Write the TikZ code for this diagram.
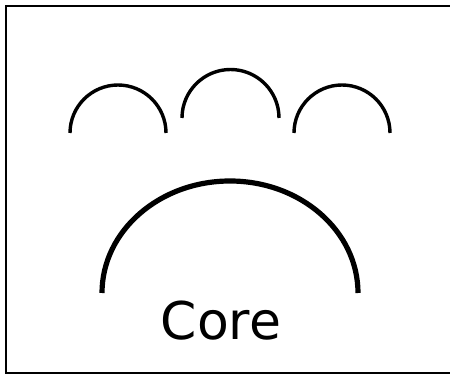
\documentclass[tikz,border=0pt]{standalone}
\usepackage{fontspec}
\newfontfamily\labelfont{DejaVu Sans}
\begin{document}
\begin{tikzpicture}[x=1pt,y=-1pt,
  smallarc/.style={line width=3.4pt},
  bigarc/.style={line width=5.2pt},
  frame/.style={line width=1.8pt}]
\useasboundingbox (0,0) rectangle (450,374);
\clip (0,0) rectangle (450,374);
\draw[frame] (6,6) rectangle (455,373);
\draw[smallarc] (70,133) arc[start angle=180, end angle=360, radius=48];
\draw[smallarc] (182,118) arc[start angle=180, end angle=360, radius=48.5];
\draw[smallarc] (294,133) arc[start angle=180, end angle=360, radius=48];
\draw[bigarc] (102,293) arc[start angle=180, end angle=360, x radius=128, y radius=112];
\node[anchor=base, inner sep=0pt, font=\labelfont\fontsize{52}{60}\selectfont] (core) at (221,339) {Core};
\end{tikzpicture}
\end{document}
